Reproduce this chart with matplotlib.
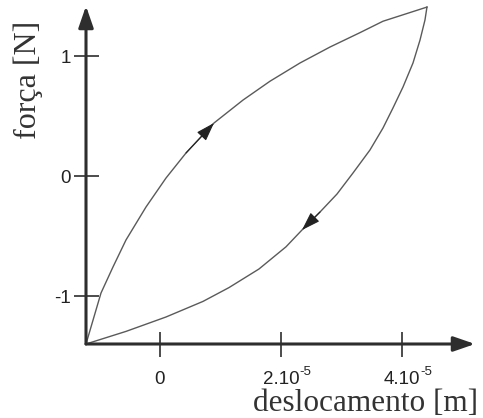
import matplotlib
matplotlib.use("Agg")
import matplotlib.pyplot as plt
import matplotlib.transforms as mtransforms
import numpy as np

# Data (x in units of 1e-5 m, y in newtons)
upper_x = [-1.223, -0.975, -0.777, -0.562, -0.231, 0.099, 0.430, 0.893, 1.372,
           1.818, 2.314, 2.810, 3.306, 3.686, 4.413]
upper_y = [-1.400, -0.975, -0.758, -0.533, -0.258, -0.017, 0.192, 0.442, 0.633,
           0.790, 0.942, 1.075, 1.195, 1.290, 1.408]
lower_x = [4.413, 4.380, 4.298, 4.182, 4.017, 3.851, 3.686, 3.471, 3.190, 2.926,
           2.645, 2.347, 2.083, 1.636, 1.140, 0.711, 0.099, -0.562, -1.223]
lower_y = [1.408, 1.300, 1.133, 0.942, 0.742, 0.567, 0.400, 0.217, 0.025, -0.150,
           -0.300, -0.450, -0.590, -0.775, -0.930, -1.045, -1.175, -1.295, -1.400]
upper_arrow_idx = 7
lower_arrow_idx = 11

xticks = [0, 2e-5, 4e-5]
xticklabels = ["0", "2.10", "4.10"]
xtick_exponents = ["", "-5", "-5"]
yticks = [-1, 0, 1]
yticklabels = ["-1", "0", "1"]
xlabel = "deslocamento [m]"
ylabel = "força [N]"

scale = 1e-5
ux = np.array(upper_x) * scale
uy = np.array(upper_y)
lx = np.array(lower_x) * scale
ly = np.array(lower_y)

plt.rcParams["font.family"] = ["Liberation Sans", "DejaVu Sans"]

fig = plt.figure(figsize=(4.83, 4.18), dpi=100)
ax = fig.add_axes([86 / 483, (418 - 344) / 418, (475 - 86) / 483, (344 - 6) / 418])

curve_color = "#5a5a5a"
axis_color = "#2e2e2e"
text_color = "#222222"

ax.plot(ux, uy, color=curve_color, lw=1.0)
ax.plot(lx, ly, color=curve_color, lw=1.0)

arrow_kw = dict(arrowstyle="-|>,head_length=1.15,head_width=0.38",
                color="#222222", lw=0.8, shrinkA=0, shrinkB=0, mutation_scale=10)
i = upper_arrow_idx
ax.annotate("", xy=(ux[i], uy[i]), xytext=(ux[i - 1], uy[i - 1]), arrowprops=arrow_kw)
j = lower_arrow_idx
ax.annotate("", xy=(lx[j], ly[j]), xytext=(lx[j - 1], ly[j - 1]), arrowprops=arrow_kw)

ax.set_xlim(-1.223e-5, 5.207e-5)
ax.set_ylim(-1.40, 1.417)

for s in ax.spines.values():
    s.set_visible(False)

axis_arrow = dict(arrowstyle="-|>,head_length=1.3,head_width=0.45",
                  color=axis_color, lw=2.2, shrinkA=0, shrinkB=0, mutation_scale=10)
ax.annotate("", xy=(1, 0), xytext=(0, 0), xycoords="axes fraction",
            textcoords="axes fraction", arrowprops=axis_arrow, annotation_clip=False)
ax.annotate("", xy=(0, 1), xytext=(0, 0), xycoords="axes fraction",
            textcoords="axes fraction", arrowprops=axis_arrow, annotation_clip=False)

ax.set_xticks(xticks)
ax.set_xticklabels(xticklabels)
ax.set_yticks(yticks)
ax.set_yticklabels(yticklabels)
ax.tick_params(direction="inout", length=18, width=1.2, color=axis_color,
               labelsize=13.5, labelcolor=text_color)
ax.tick_params(axis="x", pad=10.5)
ax.tick_params(axis="y", pad=2)

# exponents of the x tick labels
trans = mtransforms.blended_transform_factory(ax.transData, ax.transAxes)
for t, e in zip(xticks, xtick_exponents):
    if e:
        ax.annotate(e, xy=(t, 0), xycoords=trans, xytext=(13.3, -22.5),
                    textcoords="offset points", ha="left", va="baseline",
                    fontsize=9.5, color=text_color, annotation_clip=False)

fig.text(478 / 483, 1 - 411 / 418, xlabel, ha="right", va="baseline",
         fontsize=22.5, family="Liberation Serif", color="#333333")
fig.text(28 / 483, 1 - 80 / 418, ylabel, ha="center", va="center", rotation=90,
         fontsize=23, family="Liberation Serif", color="#333333")

fig.savefig("out.png", dpi=100)
